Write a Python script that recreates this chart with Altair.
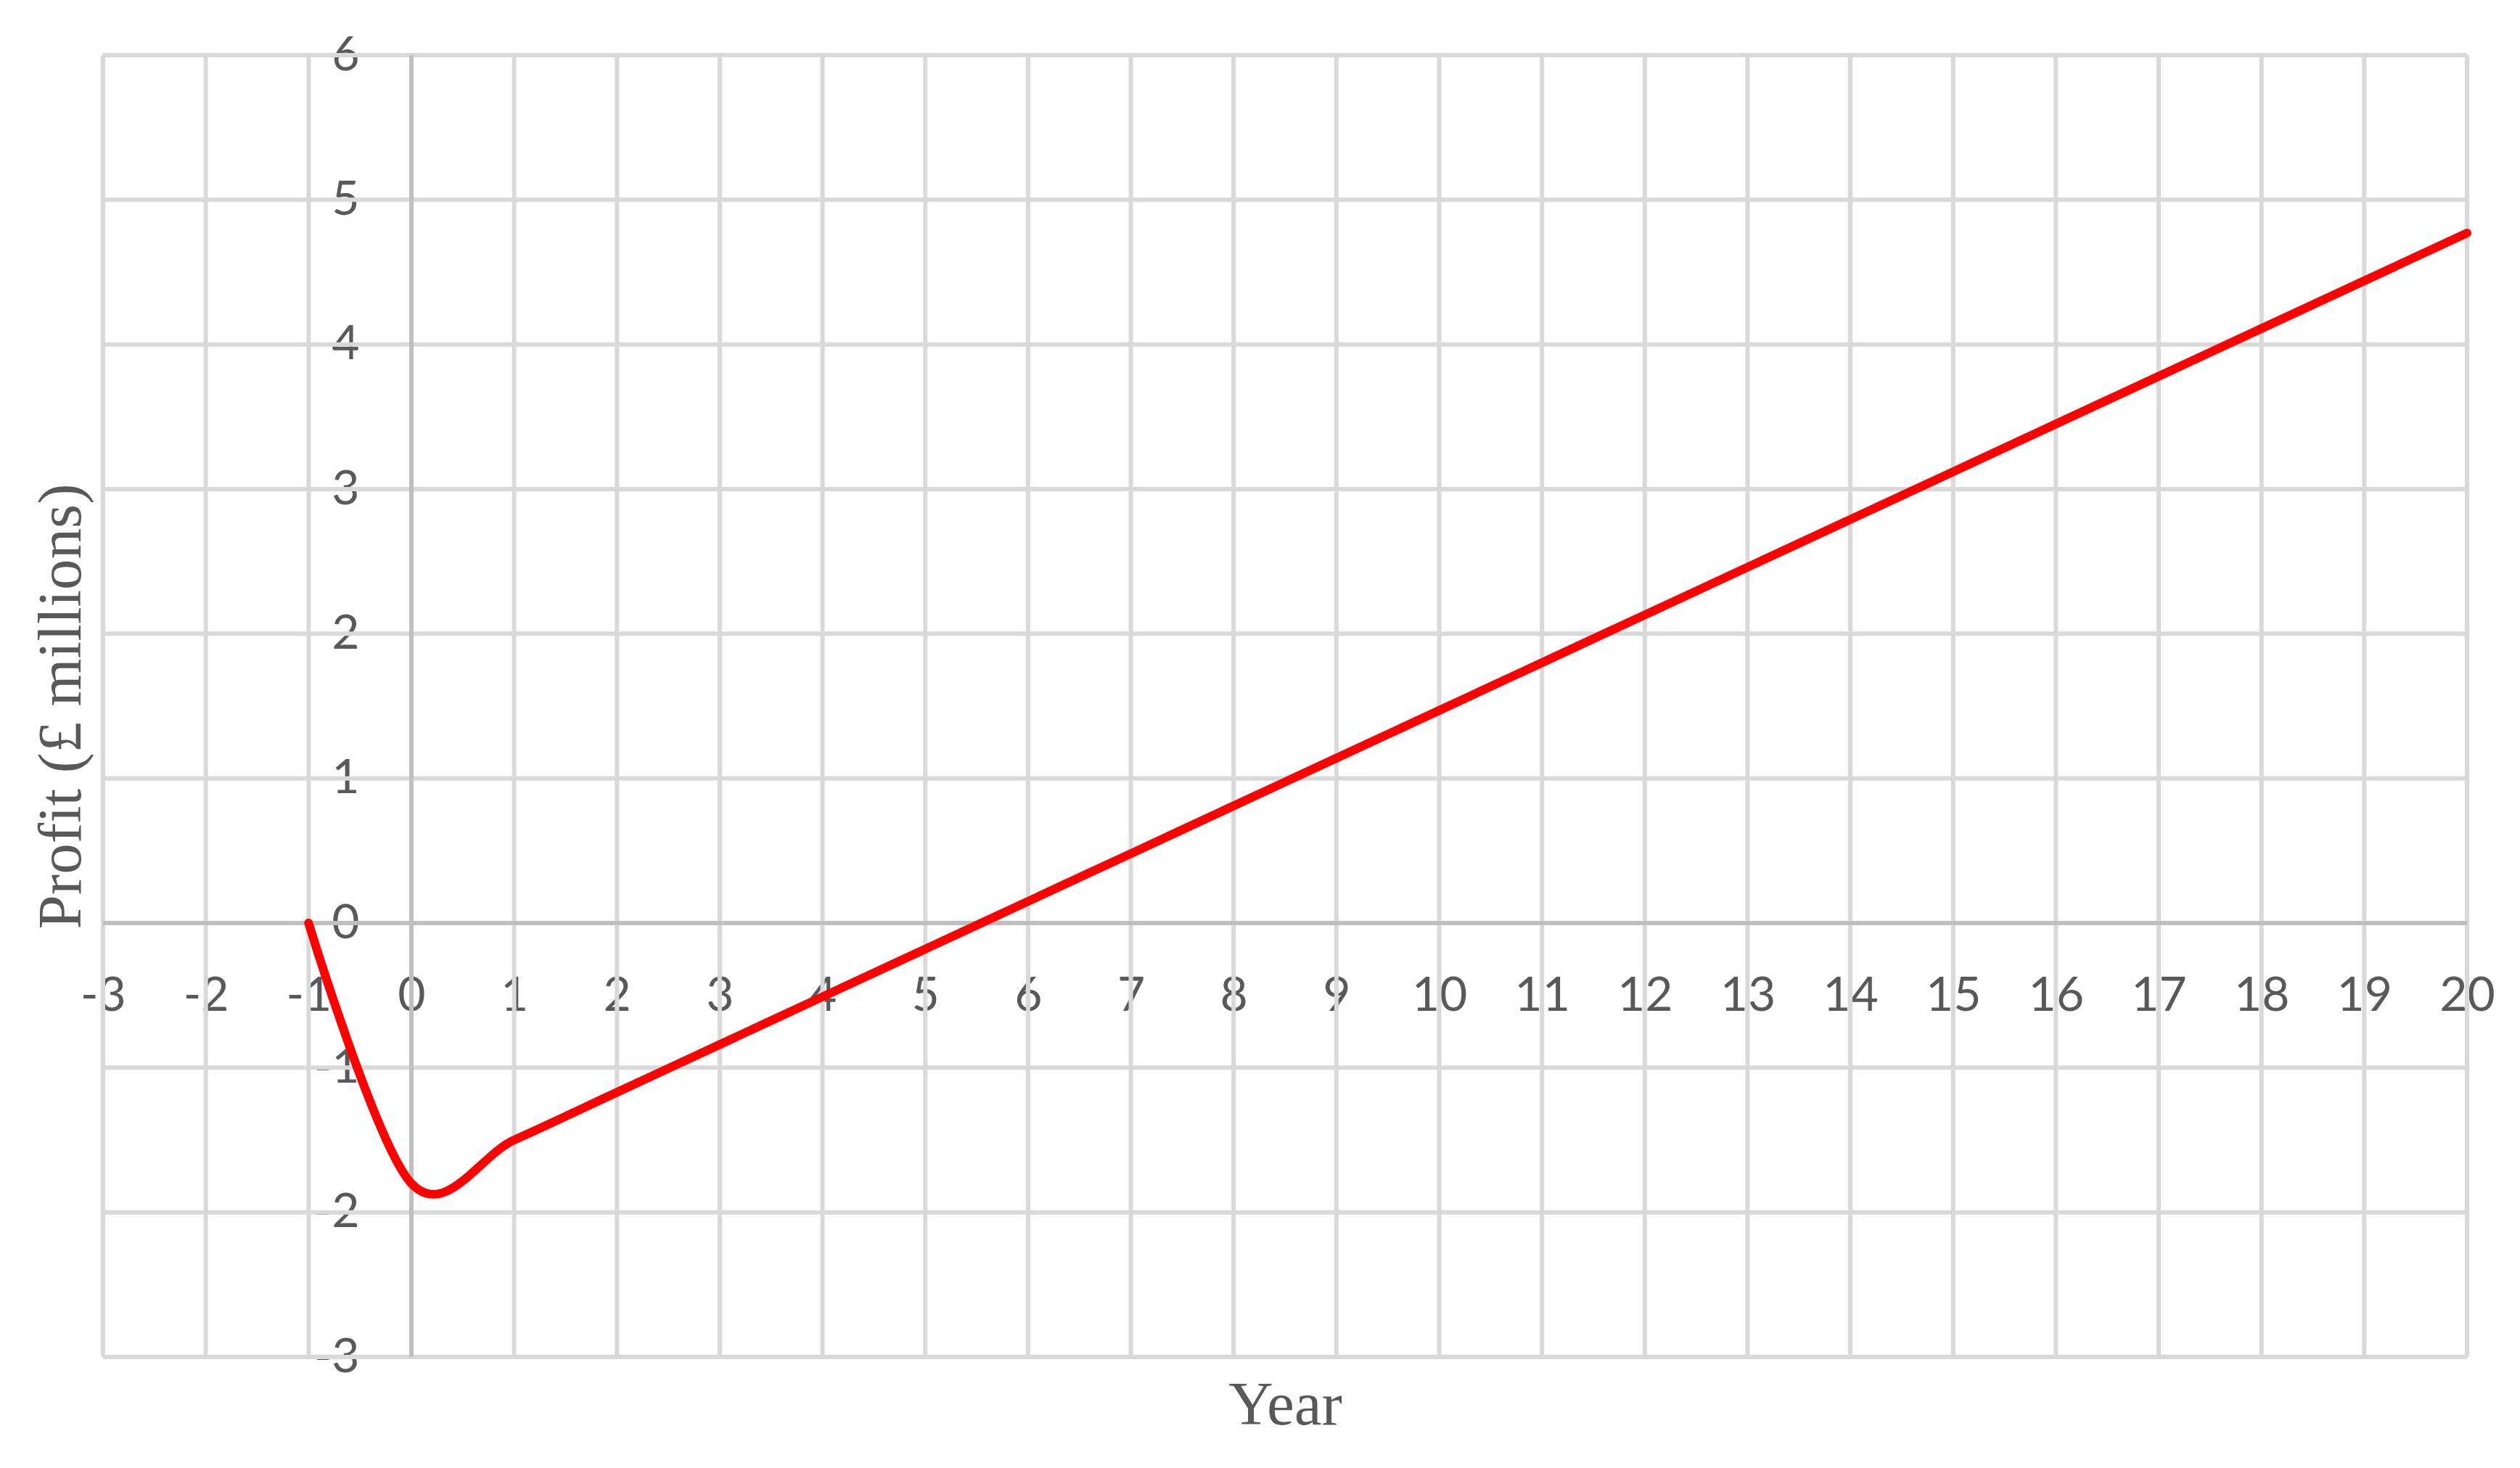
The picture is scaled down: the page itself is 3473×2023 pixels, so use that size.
import altair as alt
import pandas as pd

# ---- data ----
YEARS = [-1, 0, 1, 2, 3, 4, 5, 6, 7, 8, 9, 10, 11, 12, 13, 14, 15, 16, 17, 18, 19, 20]
PROFIT = [0.0, -1.8, -1.5, -1.17, -0.84, -0.51, -0.18, 0.15, 0.48, 0.81, 1.14, 1.47,
          1.80, 2.13, 2.46, 2.79, 3.12, 3.45, 3.78, 4.11, 4.44, 4.77]

X_TICKS = [-3, -2, -1, 0, 1, 2, 3, 4, 5, 6, 7, 8, 9, 10, 11, 12, 13, 14, 15, 16, 17, 18, 19, 20]
Y_TICKS = [-3, -2, -1, 0, 1, 2, 3, 4, 5, 6]
X_DOMAIN = [-3, 20]
Y_DOMAIN = [-3, 6]
ZERO = [0]

X_TITLE = "Year"
Y_TITLE = "Profit (£ millions)"

# ---- layout ----
W, H = 3258, 1794
GRID = "#d9d9d9"
AXIS = "#bfbfbf"
TEXT = "#595959"
LABEL_FONT = "Lato"
TITLE_FONT = "Liberation Serif"

line_df = pd.DataFrame({"year": YEARS, "profit": PROFIT})
xg_df = pd.DataFrame({"year": X_TICKS})
yg_df = pd.DataFrame({"profit": Y_TICKS})
xz_df = pd.DataFrame({"year": ZERO})
yz_df = pd.DataFrame({"profit": ZERO})

xs = alt.Scale(domain=X_DOMAIN, nice=False, zero=False)
ys = alt.Scale(domain=Y_DOMAIN, nice=False, zero=False)

x_off = -H * (0 - Y_DOMAIN[0]) / (Y_DOMAIN[1] - Y_DOMAIN[0])
y_off = -W * (0 - X_DOMAIN[0]) / (X_DOMAIN[1] - X_DOMAIN[0])

xaxis = alt.Axis(
    values=X_TICKS, grid=False, domain=False, ticks=False, tickSize=0,
    labelFont=LABEL_FONT, labelFontSize=66, labelColor=TEXT,
    labelPadding=120, labelBaseline="alphabetic", labelAlign="center",
    labelFlush=False, labelOverlap=False, labelBound=False,
    labelExpr="'' + datum.value",
    offset=x_off,
    title=X_TITLE, titleFont=TITLE_FONT, titleFontSize=85, titleFontWeight="normal",
    titleColor=TEXT, titleX=W / 2, titleY=690, titleBaseline="alphabetic",
    titleAlign="center", titleAngle=0,
)
yaxis = alt.Axis(
    values=Y_TICKS, grid=False, domain=False, ticks=False, tickSize=0,
    labelFont=LABEL_FONT, labelFontSize=66, labelColor=TEXT,
    labelPadding=72, labelBaseline="middle", labelAlign="right",
    labelFlush=False, labelOverlap=False, labelBound=False,
    labelExpr="'' + datum.value",
    offset=y_off,
    title=Y_TITLE, titleFont=TITLE_FONT, titleFontSize=85, titleFontWeight="normal",
    titleColor=TEXT, titleX=-456, titleY=H / 2, titleBaseline="alphabetic",
    titleAlign="center", titleAngle=270,
)

X = lambda: alt.X("year:Q", scale=xs, axis=xaxis)
Y = lambda: alt.Y("profit:Q", scale=ys, axis=yaxis)

vgrid = alt.Chart(xg_df).mark_rule(color=GRID, strokeWidth=6).encode(x=X())
hgrid = alt.Chart(yg_df).mark_rule(color=GRID, strokeWidth=6).encode(y=Y())
vzero = alt.Chart(xz_df).mark_rule(color=AXIS, strokeWidth=6).encode(x=X())
hzero = alt.Chart(yz_df).mark_rule(color=AXIS, strokeWidth=6).encode(y=Y())
line = alt.Chart(line_df).mark_line(
    color="#ff0000", strokeWidth=12, interpolate="cardinal", tension=0,
    strokeCap="round", strokeJoin="round",
).encode(x=X(), y=Y())

chart = alt.layer(vgrid, hgrid, vzero, hzero, line).properties(
    width=W, height=H,
    autosize=alt.AutoSizeParams(type="none"),
    padding={"left": 134, "top": 68, "right": 65, "bottom": 145},
    background="white",
).configure_view(stroke=None)

chart.save("out.html", embed_options={"renderer": "svg", "actions": False})
